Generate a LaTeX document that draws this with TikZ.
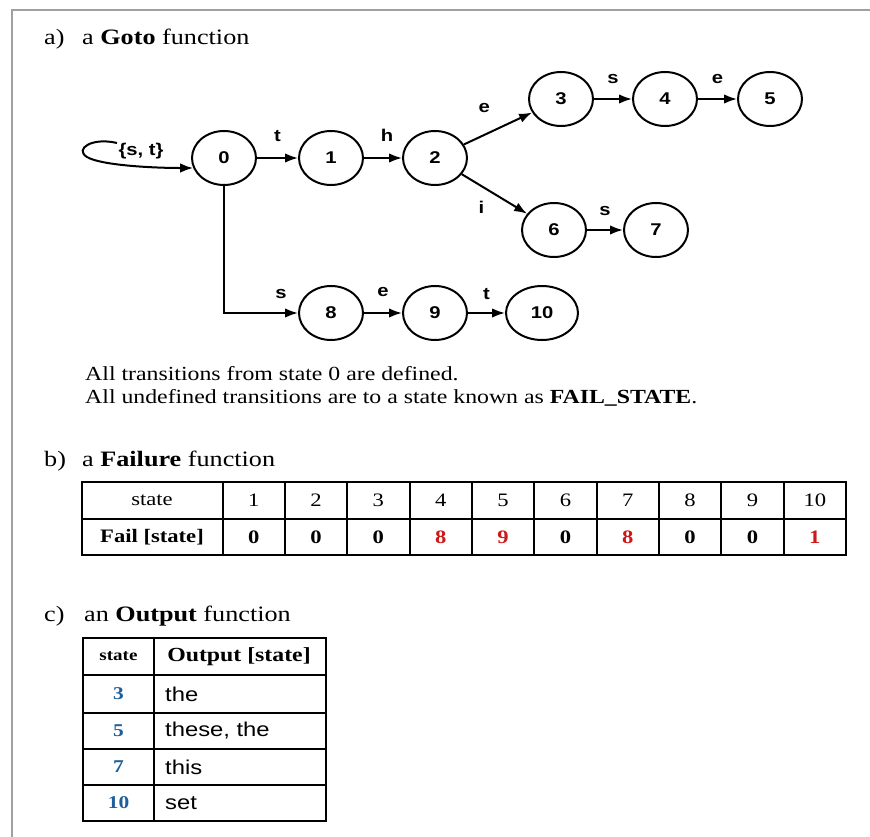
\documentclass[tikz,border=0pt]{standalone}
\usepackage{fontspec}
\setmainfont{Liberation Serif}[FakeStretch=1.19]
\newfontfamily\labelsans{Liberation Sans}[FakeStretch=1.19]
\usetikzlibrary{shapes.geometric,arrows.meta}
\definecolor{framegray}{RGB}{160,160,160}
\definecolor{failred}{RGB}{205,25,25}
\definecolor{outblue}{RGB}{30,95,155}
\newcommand{\setfs}[1]{\fontsize{#1}{#1}\selectfont}

\begin{document}
\begin{tikzpicture}[x=1pt,y=-1pt,
  stnode/.style={ellipse, draw, line width=2pt, minimum width=64pt,
    minimum height=54pt, inner sep=0pt, font=\labelsans\bfseries\setfs{17}},
  conn/.style={line width=2pt, -{Latex[length=13pt,width=9.5pt]}},
  lbl/.style={font=\labelsans\bfseries\setfs{17}, inner sep=0pt, anchor=base},
  title/.style={font=\setfs{22}, inner sep=0pt, anchor=base west},
  body/.style={font=\setfs{20}, inner sep=0pt, anchor=base west},
  grid/.style={line width=2pt},
  cellb/.style={font=\setfs{19}, inner sep=0pt},
  cellc/.style={font=\labelsans\setfs{20}, inner sep=0pt, anchor=west}
]
\useasboundingbox (0,0) rectangle (870,837);
\fill[white] (0,0) rectangle (870,837);

% page frame
\draw[framegray, line width=2.5pt] (870,10) -- (12,10) -- (12,837);

% ---------- a) goto function ----------
\node[title] (ta) at (44,45) {a)};
\node[title] (tat) at (82,45) {a \textbf{Goto} function};

\node[stnode] (n0) at (224,158) {0};
\node[stnode] (n1) at (331,158) {1};
\node[stnode] (n2) at (435,158) {2};
\node[stnode] (n3) at (561,99) {3};
\node[stnode] (n4) at (665,99) {4};
\node[stnode] (n5) at (770,99) {5};
\node[stnode] (n6) at (554,230) {6};
\node[stnode] (n7) at (656,230) {7};
\node[stnode] (n8) at (331,313) {8};
\node[stnode] (n9) at (435,313) {9};
\node[stnode, minimum width=72pt] (n10) at (542,313) {10};

\draw[conn] (n0) -- node[lbl, yshift=16pt] {t} (n1);
\draw[conn] (n1) -- node[lbl, yshift=16pt, xshift=4pt] {h} (n2);
\draw[conn] (n2) -- node[lbl, pos=0.3, yshift=22pt] {e} (n3);
\draw[conn] (n2) -- node[lbl, pos=0.3, yshift=-27pt] {i} (n6);
\draw[conn] (n3) -- node[lbl, yshift=15pt] {s} (n4);
\draw[conn] (n4) -- node[lbl, yshift=15pt] {e} (n5);
\draw[conn] (n6) -- node[lbl, yshift=15pt] {s} (n7);
\draw[conn] (n0.south) |- node[lbl, pos=0.885, yshift=15pt] {s} (n8.west);
\draw[conn] (n8) -- node[lbl, yshift=17pt] {e} (n9);
\draw[conn] (n9) -- node[lbl, yshift=14pt] {t} (n10);

% self loop on state 0
\coordinate (loopend) at (117,143);
\draw[conn] (loopend) .. controls (92,137) and (74,149) .. (87,157)
  .. controls (100,165) and (150,168) .. (n0.198);
\node[font=\labelsans\bfseries\setfs{17}, inner sep=0pt] (loopl) at (141,151) {\{s, t\}};

\node[body] (note1) at (85,380) {All transitions from state 0 are defined.};
\node[body] (note2) at (85,403) {All undefined transitions are to a state known as \textbf{FAIL\_STATE}.};

% ---------- b) failure function ----------
\node[title] (tb) at (44,466) {b)};
\node[title] (tbt) at (82,466) {a \textbf{Failure} function};

\draw[grid] (82,482) rectangle (846,555);
\draw[grid] (82,518.5) -- (846,518.5);
\foreach \k in {0,...,9} \draw[grid] ({222.5+62.35*\k},482) -- ++(0,73);

\node[cellb] (hs) at (152,500.5) {state};
\node[cellb, font=\bfseries\setfs{19}] (hf) at (152,537) {Fail [state]};
\foreach \v [count=\i] in {1,...,10}
  \node[cellb] (sv\i) at ({222.5+62.35*(\i-0.5)},500.5) {\v};
\foreach \v [count=\i] in {0,0,0,{\color{failred}8},{\color{failred}9},0,{\color{failred}8},0,0,{\color{failred}1}}
  \node[cellb, font=\bfseries\setfs{19}] (fv\i) at ({222.5+62.35*(\i-0.5)},537) {\v};

% ---------- c) output function ----------
\node[title] (tc) at (44,621) {c)};
\node[title] (tct) at (84,621) {an \textbf{Output} function};

\draw[grid] (83,638) rectangle (326,821);
\draw[grid] (154,638) -- (154,821);
\foreach \yy in {675,713,749,785} \draw[grid] (83,\yy) -- (326,\yy);

\node[font=\bfseries\setfs{16}, inner sep=0pt] (ohs) at (118.5,656.5) {state};
\node[font=\bfseries\setfs{20}, inner sep=0pt] (oho) at (239,656.5) {Output [state]};
\foreach \s/\t/\yy [count=\i] in {3/the/694, 5/{these, the}/731, 7/this/767, 10/set/803} {
  \node[font=\bfseries\setfs{18}, text=outblue, inner sep=0pt] (os\i) at (118.5,\yy) {\s};
  \node[cellc] (ot\i) at (165,\yy) {\t};
}
\end{tikzpicture}
\end{document}
